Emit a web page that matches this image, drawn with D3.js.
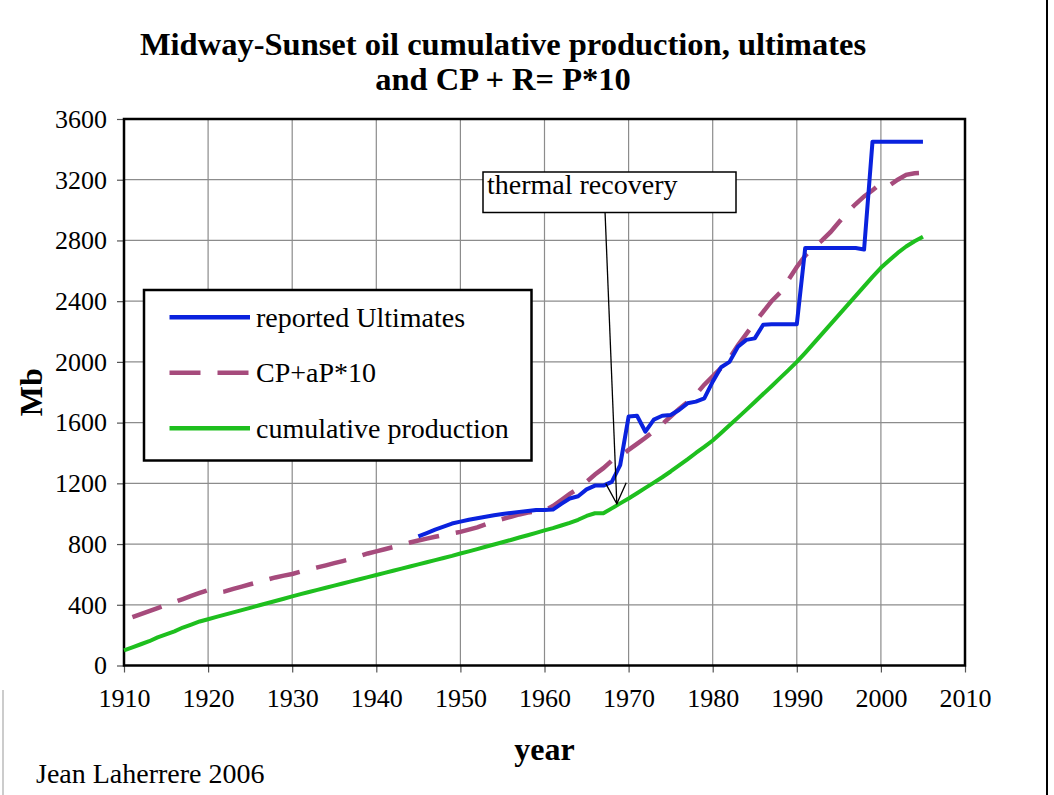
<!DOCTYPE html>
<html>
<head>
<meta charset="utf-8">
<script src="https://cdn.jsdelivr.net/npm/d3@7"></script>
<style>
  html, body { margin: 0; padding: 0; background: #fff; }
  svg { display: block; }
  text { font-family: "Liberation Serif", "Times New Roman", serif; fill: #000; }
</style>
</head>
<body>
<svg id="chart" width="1054" height="795"></svg>
<script>
// Midway-Sunset oil field, values in Mb
const cumYears = d3.range(1910, 2006);
const cumProduction = [
  100, 120, 140, 160, 185, 205, 225, 250, 270, 290,
  305, 320, 335, 350, 365, 380, 395, 410, 425, 440,
  455, 470, 484, 498, 512, 526, 540, 554, 568, 582,
  596, 610, 624, 638, 652, 666, 680, 694, 708, 722,
  738, 752, 767, 782, 797, 812, 827, 843, 858, 874,
  890, 905, 922, 940, 960, 985, 1003, 1003, 1035, 1068,
  1100, 1135, 1170, 1205, 1240, 1278, 1318, 1358, 1400, 1440,
  1482, 1532, 1582, 1633, 1684, 1736, 1788, 1840, 1893, 1946,
  2000, 2060, 2122, 2185, 2247, 2310, 2372, 2435, 2497, 2560,
  2620, 2670, 2718, 2760, 2795, 2825
];

const cpYears = d3.range(1911, 2006);
const cpPlusReserves = [
  318, 338, 358, 378, 398, 418, 438, 458, 478,
  497, 480, 488, 505, 520, 535, 550, 565, 580, 592,
  603, 618, 632, 646, 660, 674, 688, 702, 720, 738,
  752, 766, 780, 795, 810, 823, 836, 848, 860, 870,
  880, 895, 910, 930, 950, 965, 980, 995, 1008, 1015,
  1022, 1050, 1090, 1130, 1165, 1210, 1258, 1300, 1350, 1380,
  1420, 1460, 1500, 1545, 1590, 1640, 1690, 1735, 1785, 1850,
  1905, 1960, 2025, 2110, 2185, 2260, 2330, 2400, 2455, 2540,
  2625, 2700, 2755, 2800, 2855, 2920, 2985, 3040, 3090, 3130,
  3178, 3162, 3200, 3232, 3243, 3246
];

const ultYears = d3.range(1945, 2006);
const reportedUltimates = [
  850, 872, 895, 915, 935,
  948, 960, 970, 980, 990, 998, 1005, 1012, 1018, 1024,
  1024, 1027, 1065, 1100, 1115, 1160, 1185, 1185, 1210, 1320,
  1640, 1645, 1540, 1620, 1645, 1650, 1683, 1727, 1738, 1760,
  1870, 1965, 2000, 2100, 2145, 2155, 2245, 2248, 2248, 2248,
  2248, 2750, 2750, 2750, 2750, 2750, 2750, 2750, 2740, 3450,
  3450, 3450, 3450, 3450, 3450, 3450
];

const xTicks = [1910, 1920, 1930, 1940, 1950, 1960, 1970, 1980, 1990, 2000, 2010];
const yTicks = [0, 400, 800, 1200, 1600, 2000, 2400, 2800, 3200, 3600];

const seriesNames = ["reported Ultimates", "CP+aP*10", "cumulative production"];

const svg = d3.select("#chart");
const plot = { left: 124, right: 965, top: 119, bottom: 665.5 };

const x = d3.scaleLinear().domain([1910, 2010]).range([plot.left, plot.right]);
const y = d3.scaleLinear().domain([0, 3600]).range([plot.bottom, plot.top]);

const colors = { ult: "#0a22de", cp: "#a64b7c", cum: "#1ebf1e" };

// gridlines
const grid = svg.append("g").attr("stroke", "#8c8c8c").attr("stroke-width", 1.2);
grid.selectAll(".gx").data(xTicks.slice(1, -1)).join("line")
  .attr("x1", d => x(d)).attr("x2", d => x(d))
  .attr("y1", plot.top).attr("y2", plot.bottom);
grid.selectAll(".gy").data(yTicks.slice(1, -1)).join("line")
  .attr("x1", plot.left).attr("x2", plot.right)
  .attr("y1", d => y(d)).attr("y2", d => y(d));

// axes
const xAxis = svg.append("g")
  .attr("transform", `translate(0,${plot.bottom})`)
  .call(d3.axisBottom(x).tickValues(xTicks).tickFormat(d3.format("d"))
    .tickSize(7).tickSizeOuter(0).tickPadding(16));
const yAxis = svg.append("g")
  .attr("transform", `translate(${plot.left},0)`)
  .call(d3.axisLeft(y).tickValues(yTicks).tickFormat(d3.format("d"))
    .tickSize(7).tickSizeOuter(0).tickPadding(10));
[xAxis, yAxis].forEach(a => {
  a.select(".domain").remove();
  a.selectAll(".tick line").attr("stroke", "#555").attr("stroke-width", 1.2);
  a.selectAll(".tick text")
    .style("font-family", '"Liberation Serif", serif')
    .style("font-size", "26px").attr("fill", "#000");
});

// plot frame
svg.append("rect")
  .attr("x", plot.left).attr("y", plot.top)
  .attr("width", plot.right - plot.left).attr("height", plot.bottom - plot.top)
  .attr("fill", "none").attr("stroke", "#000").attr("stroke-width", 2.5);

// series
const line = d3.line().x(d => x(d[0])).y(d => y(d[1]));
const cumData = cumYears.map((yr, i) => [yr, cumProduction[i]]);
const cpData = cpYears.map((yr, i) => [yr, cpPlusReserves[i]]);
const ultData = ultYears.map((yr, i) => [yr, reportedUltimates[i]]);

svg.append("path").datum(cumData).attr("d", line)
  .attr("fill", "none").attr("stroke", colors.cum).attr("stroke-width", 4)
  .attr("stroke-linejoin", "round");
svg.append("path").datum(cpData).attr("d", line)
  .attr("fill", "none").attr("stroke", colors.cp).attr("stroke-width", 4.5)
  .attr("stroke-dasharray", "31,17");
svg.append("path").datum(ultData).attr("d", line)
  .attr("fill", "none").attr("stroke", colors.ult).attr("stroke-width", 4)
  .attr("stroke-linejoin", "round");

// thermal recovery note: box and arrow
const noteTip = [1968.6, 1065];
const noteTail = [1967.2, 2985];
const tipX = x(noteTip[0]), tipY = y(noteTip[1]);
const tailX = x(noteTail[0]), tailY = y(noteTail[1]);
const note = svg.append("g");
note.append("line")
  .attr("x1", tailX).attr("y1", tailY).attr("x2", tipX).attr("y2", tipY)
  .attr("stroke", "#000").attr("stroke-width", 1.3);
const ang = Math.atan2(tipY - tailY, tipX - tailX);
const headLen = 23, headSpread = 0.46;
note.append("path")
  .attr("d", `M${tipX - headLen * Math.cos(ang - headSpread)},${tipY - headLen * Math.sin(ang - headSpread)}
    L${tipX},${tipY}
    L${tipX - headLen * Math.cos(ang + headSpread)},${tipY - headLen * Math.sin(ang + headSpread)}`)
  .attr("fill", "none").attr("stroke", "#000").attr("stroke-width", 1.3);
note.append("rect")
  .attr("x", 483).attr("y", 172).attr("width", 253).attr("height", 40.5)
  .attr("fill", "#fff").attr("stroke", "#000").attr("stroke-width", 1.5);
note.append("text").attr("x", 487).attr("y", 193.5)
  .style("font-size", "28px").text("thermal recovery");

// legend
const legend = svg.append("g");
legend.append("rect")
  .attr("x", 144).attr("y", 290).attr("width", 387.5).attr("height", 170.5)
  .attr("fill", "#fff").attr("stroke", "#000").attr("stroke-width", 2.5);
const legendItems = [
  { name: seriesNames[0], color: colors.ult, dash: null },
  { name: seriesNames[1], color: colors.cp, dash: "31,17" },
  { name: seriesNames[2], color: colors.cum, dash: null }
];
legendItems.forEach((d, i) => {
  const ly = 317.3 + i * 55.5;
  legend.append("line")
    .attr("x1", 169.5).attr("x2", 250).attr("y1", ly).attr("y2", ly)
    .attr("stroke", d.color).attr("stroke-width", 4.5)
    .attr("stroke-dasharray", d.dash);
  legend.append("text").attr("x", 256).attr("y", ly + 9.5)
    .style("font-size", "28px").text(d.name);
});

// titles
svg.append("text").attr("x", 503).attr("y", 55).attr("text-anchor", "middle")
  .style("font-size", "32.5px").style("font-weight", "bold")
  .text("Midway-Sunset oil cumulative production, ultimates");
svg.append("text").attr("x", 503).attr("y", 90).attr("text-anchor", "middle")
  .style("font-size", "32.5px").style("font-weight", "bold")
  .text("and CP + R= P*10");

svg.append("text")
  .attr("transform", `translate(42,${(plot.top + plot.bottom) / 2}) rotate(-90)`)
  .attr("text-anchor", "middle")
  .style("font-size", "32px").style("font-weight", "bold").text("Mb");
svg.append("text").attr("x", (plot.left + plot.right) / 2).attr("y", 760)
  .attr("text-anchor", "middle")
  .style("font-size", "32px").style("font-weight", "bold").text("year");

svg.append("text").attr("x", 36).attr("y", 783)
  .style("font-size", "28px").text("Jean Laherrere 2006");

// page edge rules
svg.append("line").attr("x1", 1047).attr("x2", 1047).attr("y1", 0).attr("y2", 795)
  .attr("stroke", "#000").attr("stroke-width", 2);
svg.append("line").attr("x1", 3).attr("x2", 3).attr("y1", 690).attr("y2", 795)
  .attr("stroke", "#999").attr("stroke-width", 1);
</script>
</body>
</html>
